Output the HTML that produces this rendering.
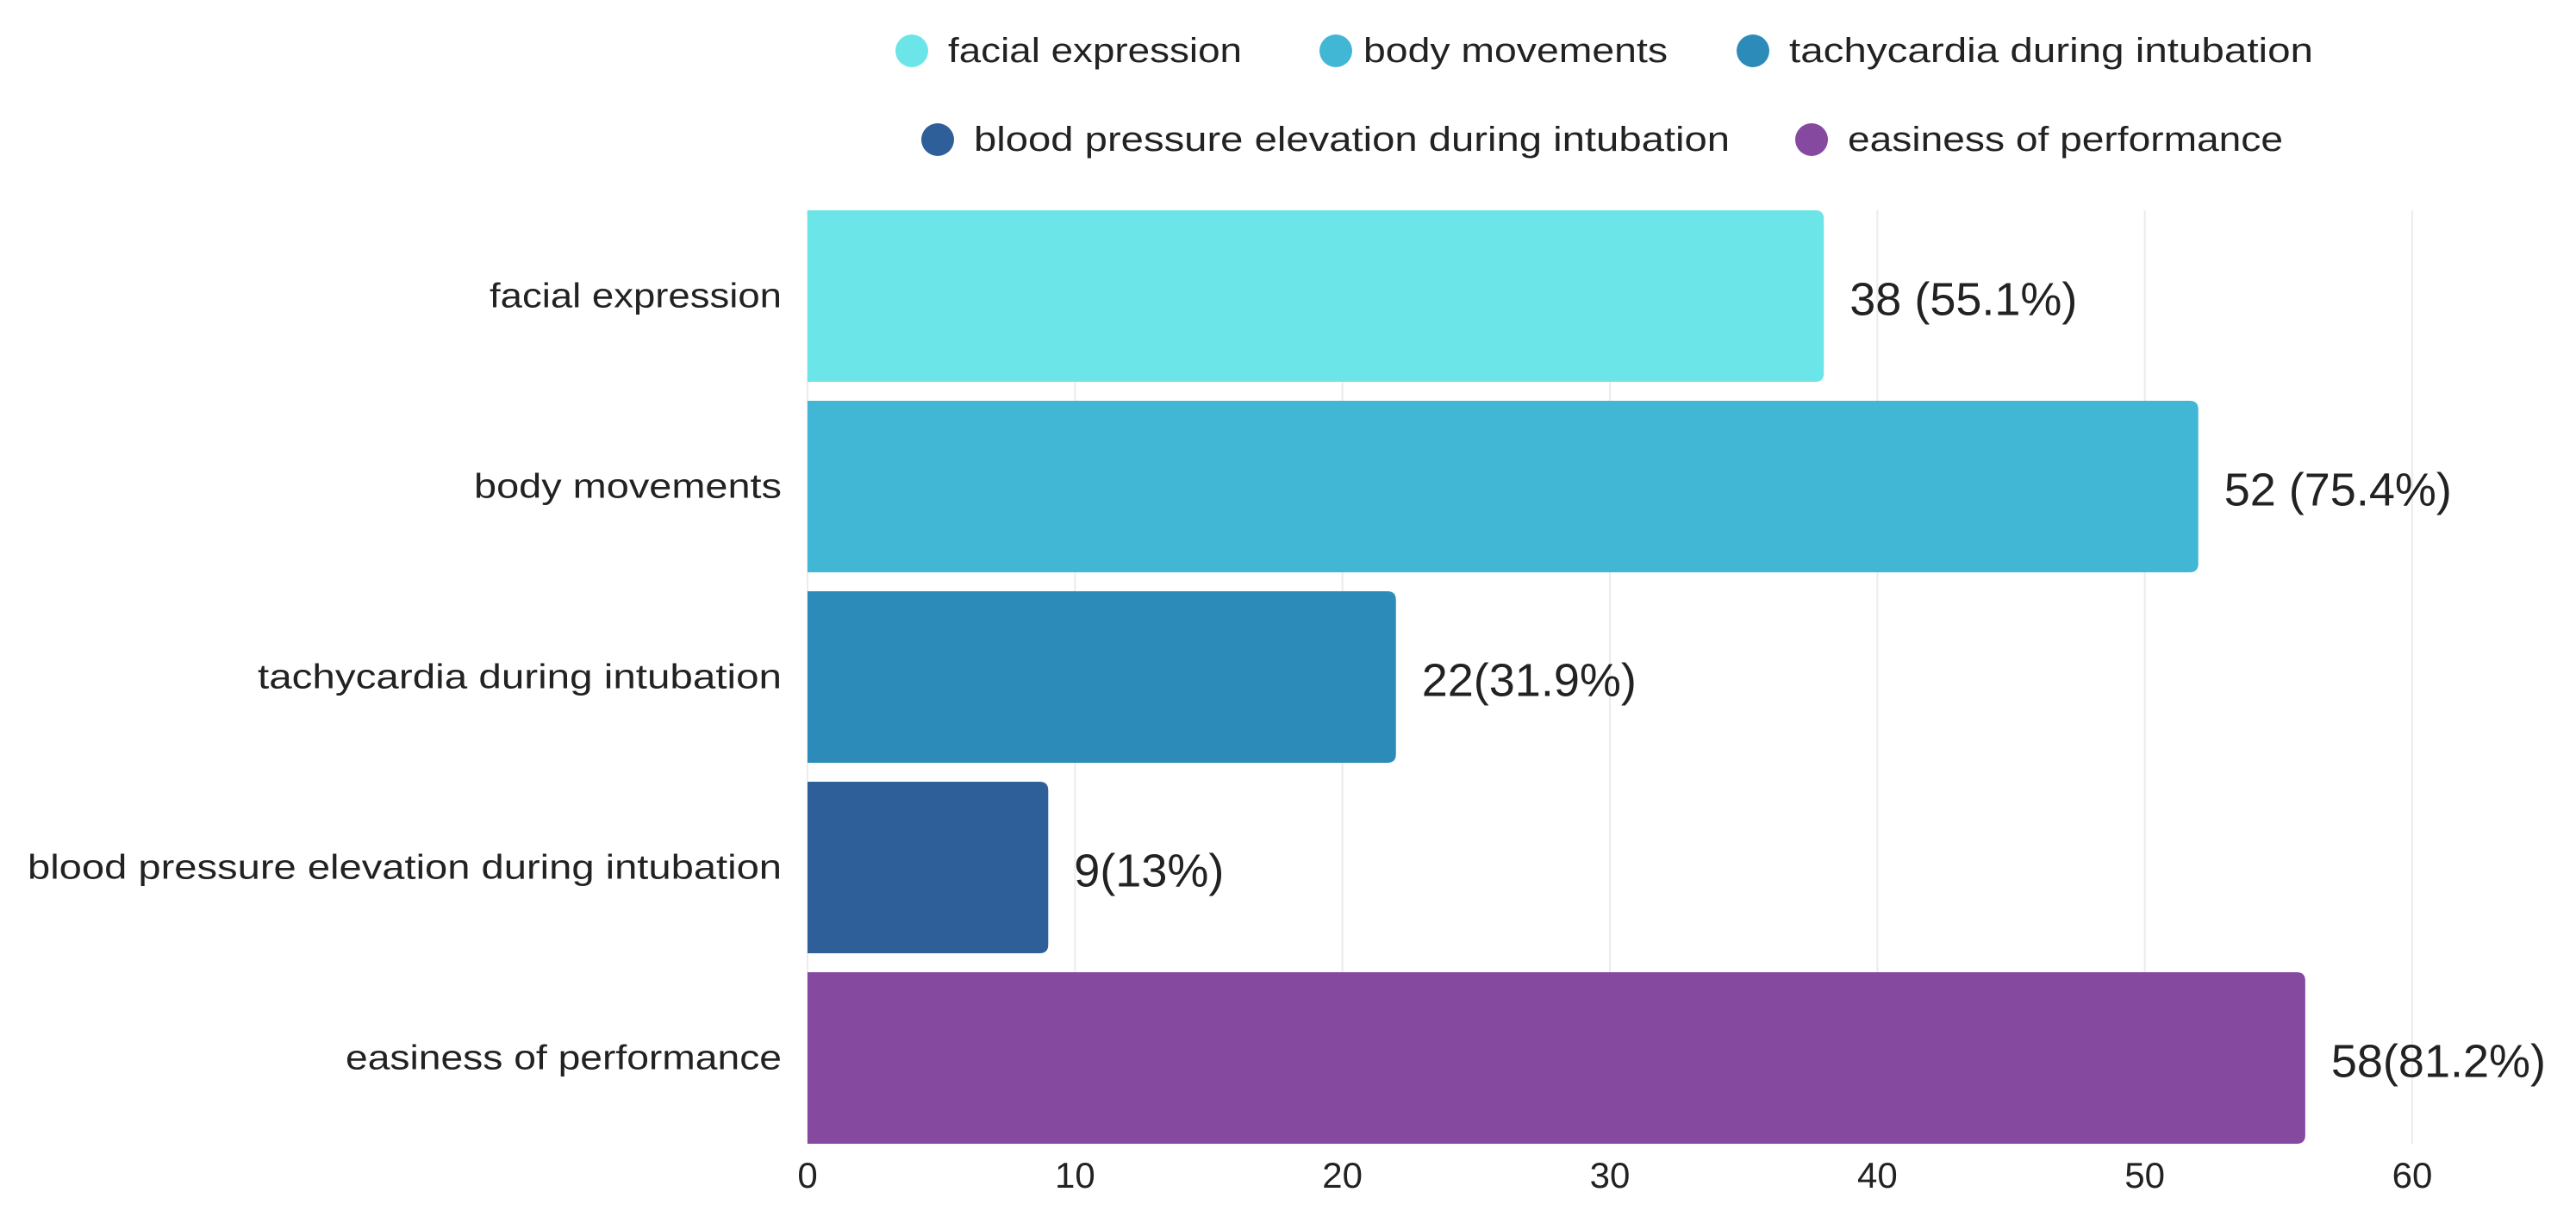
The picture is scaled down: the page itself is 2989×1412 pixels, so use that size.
<!DOCTYPE html>
<html><head><meta charset="utf-8"><style>
html,body{margin:0;padding:0;background:#fff;}
svg{display:block;font-family:"Liberation Sans",sans-serif;}
</style></head><body>
<svg id="chart" width="2989" height="1412" viewBox="0 0 2989 1412" xmlns="http://www.w3.org/2000/svg">
<g id="grid"></g>
<g id="bars"></g>
<g id="ylabels"></g>
<g id="xlabels"></g>
<g id="legend"></g>
</svg>
<script>
const categories = ["facial expression","body movements","tachycardia during intubation","blood pressure elevation during intubation","easiness of performance"];
const values = [38, 52, 22, 9, 56];
const valueLabels = ["38 (55.1%)","52 (75.4%)","22(31.9%)","9(13%)","58(81.2%)"];
const colors = ["#6CE5E8","#41B7D5","#2D8BBA","#2F5F98","#8549A0"];
const xTicks = [0,10,20,30,40,50,60];

const NS = "http://www.w3.org/2000/svg";
const X0 = 937, X60 = 2799, TOP = 244, PITCH = 221, BH = 199;
function xs(v){ return X0 + (X60 - X0) * v / 60; }
function yb(i){ return TOP + i * PITCH; }
function mk(tag, attrs, parent){ const e = document.createElementNS(NS, tag); for (const k in attrs) e.setAttribute(k, attrs[k]); parent.appendChild(e); return e; }

const grid = document.getElementById('grid');
const xl = document.getElementById('xlabels');
xTicks.forEach(t => {
  const l = mk('line', {x1: xs(t), x2: xs(t), y1: TOP, y2: yb(categories.length - 1) + BH, stroke: '#ececec', 'stroke-width': 2}, grid);
  
  
  const tx = mk('text', {x: xs(t), y: 1378, 'text-anchor': 'middle', 'font-size': 42, fill: '#222'}, xl);
  tx.textContent = t;
  
  
});

const bars = document.getElementById('bars');
const yl = document.getElementById('ylabels');
const labelW = [339, 357, 608, 875, 506];
categories.forEach((c, i) => {
  const x = xs(0), w = xs(values[i]) - xs(0), y = yb(i), r = 10;
  const d = `M${x},${y} H${x + w - r} Q${x + w},${y} ${x + w},${y + r} V${y + BH - r} Q${x + w},${y + BH} ${x + w - r},${y + BH} H${x} Z`;
  const p = mk('path', {d: d, fill: colors[i]}, bars);
  
  
  const vt = mk('text', {x: x + w + 30, y: y + BH / 2 + 22, 'font-size': 54, fill: '#222'}, bars);
  vt.textContent = valueLabels[i];
  
  
  const ct = mk('text', {x: 907, y: y + BH / 2 + 13, 'text-anchor': 'end', 'font-size': 40, fill: '#222', textLength: labelW[i], lengthAdjust: 'spacingAndGlyphs'}, yl);
  ct.textContent = c;
  
  
});

const legend = document.getElementById('legend');
const legPos = [[1058,59,1100,341],[1550,59,1582,353],[2034,59,2076,608],[1088,162,1130,877],[2102,162,2144,505]];
categories.forEach((c, i) => {
  const [cx, cy, tx, tw] = legPos[i];
  const g = mk('g', {}, legend);
  
  
  mk('circle', {cx: cx, cy: cy, r: 19, fill: colors[i]}, g);
  const t = mk('text', {x: tx, y: cy + 13, 'font-size': 40, fill: '#222', textLength: tw, lengthAdjust: 'spacingAndGlyphs'}, g);
  t.textContent = c;
});
</script>
</body></html>
